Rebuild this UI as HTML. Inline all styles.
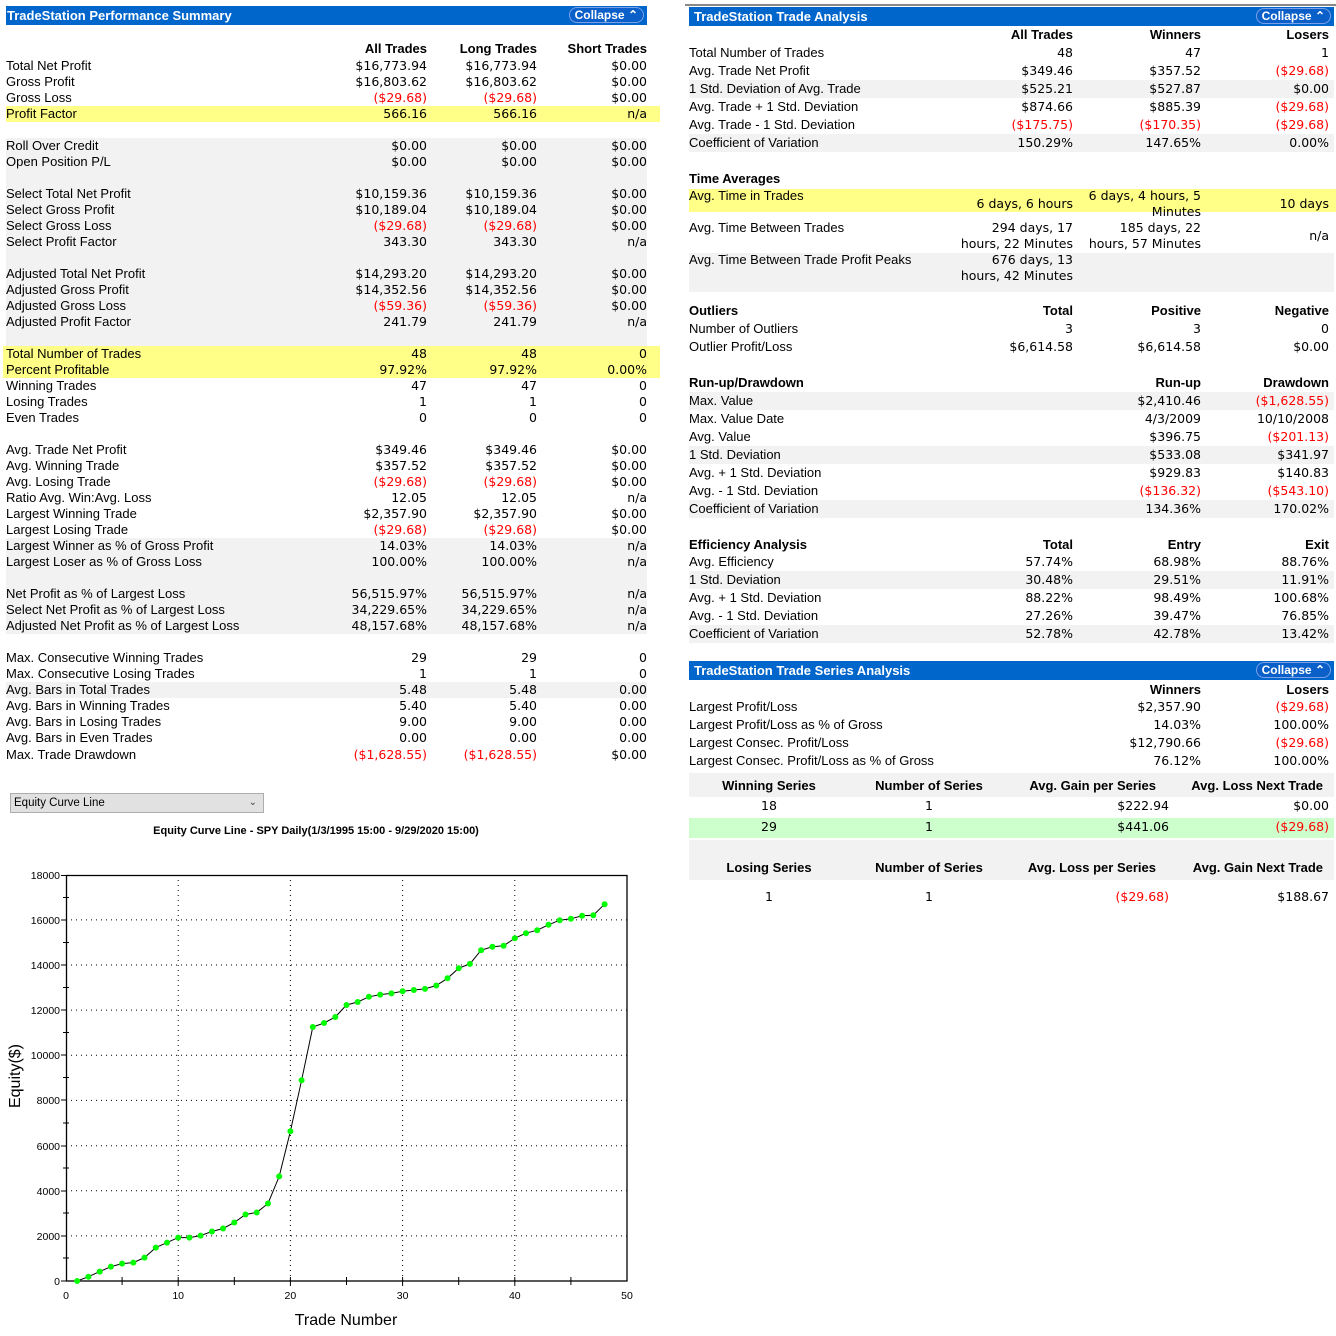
<!DOCTYPE html>
<html><head><meta charset="utf-8"><style>
*{margin:0;padding:0;box-sizing:border-box}
body{width:1336px;height:1336px;background:#fff;position:relative;overflow:hidden;font-family:"Liberation Sans",Arial,sans-serif;font-size:13px;color:#000}
.bar{position:absolute;background:#0066cc;color:#fff;font-weight:bold;font-size:13px;line-height:19px;padding-left:1px}
.btn{position:absolute;right:3px;top:1px;height:16px;line-height:14px;border:1px solid #7aa0e8;border-radius:8px;padding:0 5px;font-size:12px;background:#0a5fc8}
.bg{position:absolute}
.l{position:absolute;left:6px;width:641px;height:16px;line-height:16px;white-space:nowrap}
.l span{position:absolute;top:0}
.a{right:220px}.b{right:110px}.c{right:0}
.r{position:absolute;left:689px;width:640px;height:18px;line-height:18px;white-space:nowrap}
.r span{position:absolute;top:0}
.l span,.r span{font-family:"DejaVu Sans",sans-serif;font-size:12.5px}
.h span{font-family:"Liberation Sans",Arial,sans-serif;font-size:13px}
.x{right:256px}.y{right:128px}.z{right:0}
.red{color:#f00}
.h{font-weight:bold}
</style></head><body>

<div class="bg" style="left:6px;top:106px;width:654px;height:16px;background:#ffff88"></div>
<div class="bg" style="left:6px;top:138px;width:641px;height:208px;background:#f2f2f2"></div>
<div class="bg" style="left:3px;top:346px;width:657px;height:32px;background:#ffff88"></div>
<div class="bg" style="left:6px;top:538px;width:641px;height:96px;background:#f2f2f2"></div>
<div class="bg" style="left:6px;top:682px;width:641px;height:16px;background:#f2f2f2"></div>

<div class="bar" style="left:6px;top:6px;width:641px;height:19px">TradeStation Performance Summary<div class="btn">Collapse ⌃</div></div>

<div class="l h" style="top:41px"><span class="a">All Trades</span><span class="b">Long Trades</span><span class="c">Short Trades</span></div>
<div class="l" style="top:58px">Total Net Profit<span class="a">$16,773.94</span><span class="b">$16,773.94</span><span class="c">$0.00</span></div>
<div class="l" style="top:74px">Gross Profit<span class="a">$16,803.62</span><span class="b">$16,803.62</span><span class="c">$0.00</span></div>
<div class="l" style="top:90px">Gross Loss<span class="a red">($29.68)</span><span class="b red">($29.68)</span><span class="c">$0.00</span></div>
<div class="l" style="top:106px">Profit Factor<span class="a">566.16</span><span class="b">566.16</span><span class="c">n/a</span></div>
<div class="l" style="top:138px">Roll Over Credit<span class="a">$0.00</span><span class="b">$0.00</span><span class="c">$0.00</span></div>
<div class="l" style="top:154px">Open Position P/L<span class="a">$0.00</span><span class="b">$0.00</span><span class="c">$0.00</span></div>
<div class="l" style="top:186px">Select Total Net Profit<span class="a">$10,159.36</span><span class="b">$10,159.36</span><span class="c">$0.00</span></div>
<div class="l" style="top:202px">Select Gross Profit<span class="a">$10,189.04</span><span class="b">$10,189.04</span><span class="c">$0.00</span></div>
<div class="l" style="top:218px">Select Gross Loss<span class="a red">($29.68)</span><span class="b red">($29.68)</span><span class="c">$0.00</span></div>
<div class="l" style="top:234px">Select Profit Factor<span class="a">343.30</span><span class="b">343.30</span><span class="c">n/a</span></div>
<div class="l" style="top:266px">Adjusted Total Net Profit<span class="a">$14,293.20</span><span class="b">$14,293.20</span><span class="c">$0.00</span></div>
<div class="l" style="top:282px">Adjusted Gross Profit<span class="a">$14,352.56</span><span class="b">$14,352.56</span><span class="c">$0.00</span></div>
<div class="l" style="top:298px">Adjusted Gross Loss<span class="a red">($59.36)</span><span class="b red">($59.36)</span><span class="c">$0.00</span></div>
<div class="l" style="top:314px">Adjusted Profit Factor<span class="a">241.79</span><span class="b">241.79</span><span class="c">n/a</span></div>
<div class="l" style="top:346px">Total Number of Trades<span class="a">48</span><span class="b">48</span><span class="c">0</span></div>
<div class="l" style="top:362px">Percent Profitable<span class="a">97.92%</span><span class="b">97.92%</span><span class="c">0.00%</span></div>
<div class="l" style="top:378px">Winning Trades<span class="a">47</span><span class="b">47</span><span class="c">0</span></div>
<div class="l" style="top:394px">Losing Trades<span class="a">1</span><span class="b">1</span><span class="c">0</span></div>
<div class="l" style="top:410px">Even Trades<span class="a">0</span><span class="b">0</span><span class="c">0</span></div>
<div class="l" style="top:442px">Avg. Trade Net Profit<span class="a">$349.46</span><span class="b">$349.46</span><span class="c">$0.00</span></div>
<div class="l" style="top:458px">Avg. Winning Trade<span class="a">$357.52</span><span class="b">$357.52</span><span class="c">$0.00</span></div>
<div class="l" style="top:474px">Avg. Losing Trade<span class="a red">($29.68)</span><span class="b red">($29.68)</span><span class="c">$0.00</span></div>
<div class="l" style="top:490px">Ratio Avg. Win:Avg. Loss<span class="a">12.05</span><span class="b">12.05</span><span class="c">n/a</span></div>
<div class="l" style="top:506px">Largest Winning Trade<span class="a">$2,357.90</span><span class="b">$2,357.90</span><span class="c">$0.00</span></div>
<div class="l" style="top:522px">Largest Losing Trade<span class="a red">($29.68)</span><span class="b red">($29.68)</span><span class="c">$0.00</span></div>
<div class="l" style="top:538px">Largest Winner as % of Gross Profit<span class="a">14.03%</span><span class="b">14.03%</span><span class="c">n/a</span></div>
<div class="l" style="top:554px">Largest Loser as % of Gross Loss<span class="a">100.00%</span><span class="b">100.00%</span><span class="c">n/a</span></div>
<div class="l" style="top:586px">Net Profit as % of Largest Loss<span class="a">56,515.97%</span><span class="b">56,515.97%</span><span class="c">n/a</span></div>
<div class="l" style="top:602px">Select Net Profit as % of Largest Loss<span class="a">34,229.65%</span><span class="b">34,229.65%</span><span class="c">n/a</span></div>
<div class="l" style="top:618px">Adjusted Net Profit as % of Largest Loss<span class="a">48,157.68%</span><span class="b">48,157.68%</span><span class="c">n/a</span></div>
<div class="l" style="top:650px">Max. Consecutive Winning Trades<span class="a">29</span><span class="b">29</span><span class="c">0</span></div>
<div class="l" style="top:666px">Max. Consecutive Losing Trades<span class="a">1</span><span class="b">1</span><span class="c">0</span></div>
<div class="l" style="top:682px">Avg. Bars in Total Trades<span class="a">5.48</span><span class="b">5.48</span><span class="c">0.00</span></div>
<div class="l" style="top:698px">Avg. Bars in Winning Trades<span class="a">5.40</span><span class="b">5.40</span><span class="c">0.00</span></div>
<div class="l" style="top:714px">Avg. Bars in Losing Trades<span class="a">9.00</span><span class="b">9.00</span><span class="c">0.00</span></div>
<div class="l" style="top:730px">Avg. Bars in Even Trades<span class="a">0.00</span><span class="b">0.00</span><span class="c">0.00</span></div>
<div class="l" style="top:747px">Max. Trade Drawdown<span class="a red">($1,628.55)</span><span class="b red">($1,628.55)</span><span class="c">$0.00</span></div>

<div class="bg" style="left:685px;top:4px;width:651px;height:2px;background:#888"></div>
<div class="bar" style="left:689px;top:7px;width:645px;height:19px;padding-left:5px">TradeStation Trade Analysis<div class="btn">Collapse ⌃</div></div>

<div class="bg" style="left:689px;top:80px;width:645px;height:18px;background:#f2f2f2"></div>
<div class="bg" style="left:689px;top:134px;width:645px;height:18px;background:#f2f2f2"></div>
<div class="bg" style="left:689px;top:189px;width:647px;height:23px;background:#ffff88"></div>
<div class="bg" style="left:689px;top:253px;width:645px;height:39px;background:#f2f2f2"></div>
<div class="bg" style="left:689px;top:392px;width:645px;height:18px;background:#f2f2f2"></div>
<div class="bg" style="left:689px;top:446px;width:645px;height:18px;background:#f2f2f2"></div>
<div class="bg" style="left:689px;top:500px;width:645px;height:18px;background:#f2f2f2"></div>
<div class="bg" style="left:689px;top:571px;width:645px;height:18px;background:#f2f2f2"></div>
<div class="bg" style="left:689px;top:625px;width:645px;height:18px;background:#f2f2f2"></div>

<div class="r h" style="top:26px"><span class="x">All Trades</span><span class="y">Winners</span><span class="z">Losers</span></div>
<div class="r" style="top:44px">Total Number of Trades<span class="x">48</span><span class="y">47</span><span class="z">1</span></div>
<div class="r" style="top:62px">Avg. Trade Net Profit<span class="x">$349.46</span><span class="y">$357.52</span><span class="z red">($29.68)</span></div>
<div class="r" style="top:80px">1 Std. Deviation of Avg. Trade<span class="x">$525.21</span><span class="y">$527.87</span><span class="z">$0.00</span></div>
<div class="r" style="top:98px">Avg. Trade + 1 Std. Deviation<span class="x">$874.66</span><span class="y">$885.39</span><span class="z red">($29.68)</span></div>
<div class="r" style="top:116px">Avg. Trade - 1 Std. Deviation<span class="x red">($175.75)</span><span class="y red">($170.35)</span><span class="z red">($29.68)</span></div>
<div class="r" style="top:134px">Coefficient of Variation<span class="x">150.29%</span><span class="y">147.65%</span><span class="z">0.00%</span></div>

<div class="r h" style="top:170px">Time Averages</div>
<div class="r" style="top:187px">Avg. Time in Trades<span class="x" style="top:8px">6 days, 6 hours</span><span class="y">6 days, 4 hours, 5</span><span class="y" style="top:16px">Minutes</span><span class="z" style="top:8px">10 days</span></div>
<div class="r" style="top:219px">Avg. Time Between Trades<span class="x">294 days, 17</span><span class="x" style="top:16px">hours, 22 Minutes</span><span class="y">185 days, 22</span><span class="y" style="top:16px">hours, 57 Minutes</span><span class="z" style="top:8px">n/a</span></div>
<div class="r" style="top:251px">Avg. Time Between Trade Profit Peaks<span class="x">676 days, 13</span><span class="x" style="top:16px">hours, 42 Minutes</span></div>

<div class="r h" style="top:302px">Outliers<span class="x">Total</span><span class="y">Positive</span><span class="z">Negative</span></div>
<div class="r" style="top:320px">Number of Outliers<span class="x">3</span><span class="y">3</span><span class="z">0</span></div>
<div class="r" style="top:338px">Outlier Profit/Loss<span class="x">$6,614.58</span><span class="y">$6,614.58</span><span class="z">$0.00</span></div>

<div class="r h" style="top:374px">Run-up/Drawdown<span class="y">Run-up</span><span class="z">Drawdown</span></div>
<div class="r" style="top:392px">Max. Value<span class="y">$2,410.46</span><span class="z red">($1,628.55)</span></div>
<div class="r" style="top:410px">Max. Value Date<span class="y">4/3/2009</span><span class="z">10/10/2008</span></div>
<div class="r" style="top:428px">Avg. Value<span class="y">$396.75</span><span class="z red">($201.13)</span></div>
<div class="r" style="top:446px">1 Std. Deviation<span class="y">$533.08</span><span class="z">$341.97</span></div>
<div class="r" style="top:464px">Avg. + 1 Std. Deviation<span class="y">$929.83</span><span class="z">$140.83</span></div>
<div class="r" style="top:482px">Avg. - 1 Std. Deviation<span class="y red">($136.32)</span><span class="z red">($543.10)</span></div>
<div class="r" style="top:500px">Coefficient of Variation<span class="y">134.36%</span><span class="z">170.02%</span></div>

<div class="r h" style="top:536px">Efficiency Analysis<span class="x">Total</span><span class="y">Entry</span><span class="z">Exit</span></div>
<div class="r" style="top:553px">Avg. Efficiency<span class="x">57.74%</span><span class="y">68.98%</span><span class="z">88.76%</span></div>
<div class="r" style="top:571px">1 Std. Deviation<span class="x">30.48%</span><span class="y">29.51%</span><span class="z">11.91%</span></div>
<div class="r" style="top:589px">Avg. + 1 Std. Deviation<span class="x">88.22%</span><span class="y">98.49%</span><span class="z">100.68%</span></div>
<div class="r" style="top:607px">Avg. - 1 Std. Deviation<span class="x">27.26%</span><span class="y">39.47%</span><span class="z">76.85%</span></div>
<div class="r" style="top:625px">Coefficient of Variation<span class="x">52.78%</span><span class="y">42.78%</span><span class="z">13.42%</span></div>

<div class="bar" style="left:689px;top:661px;width:645px;height:19px;padding-left:5px">TradeStation Trade Series Analysis<div class="btn">Collapse ⌃</div></div>
<div class="r h" style="top:681px"><span class="y">Winners</span><span class="z">Losers</span></div>
<div class="r" style="top:698px">Largest Profit/Loss<span class="y">$2,357.90</span><span class="z red">($29.68)</span></div>
<div class="r" style="top:716px">Largest Profit/Loss as % of Gross<span class="y">14.03%</span><span class="z">100.00%</span></div>
<div class="r" style="top:734px">Largest Consec. Profit/Loss<span class="y">$12,790.66</span><span class="z red">($29.68)</span></div>
<div class="r" style="top:752px">Largest Consec. Profit/Loss as % of Gross<span class="y">76.12%</span><span class="z">100.00%</span></div>

<div class="bg" style="left:689px;top:773px;width:645px;height:24px;background:#f2f2f2"></div>
<div class="bg" style="left:689px;top:818px;width:645px;height:20px;background:#ccffcc"></div>
<div class="bg" style="left:689px;top:840px;width:645px;height:40px;background:#f2f2f2"></div>
<div class="r h" style="top:777px"><span style="left:0;width:160px;text-align:center">Winning Series</span><span style="left:160px;width:160px;text-align:center">Number of Series</span><span style="right:173px">Avg. Gain per Series</span><span style="right:6px">Avg. Loss Next Trade</span></div>
<div class="r" style="top:797px"><span style="left:0;width:160px;text-align:center">18</span><span style="left:160px;width:160px;text-align:center">1</span><span style="right:160px">$222.94</span><span class="z">$0.00</span></div>
<div class="r" style="top:818px"><span style="left:0;width:160px;text-align:center">29</span><span style="left:160px;width:160px;text-align:center">1</span><span style="right:160px">$441.06</span><span class="z red">($29.68)</span></div>
<div class="r h" style="top:859px"><span style="left:0;width:160px;text-align:center">Losing Series</span><span style="left:160px;width:160px;text-align:center">Number of Series</span><span style="right:173px">Avg. Loss per Series</span><span style="right:6px">Avg. Gain Next Trade</span></div>
<div class="r" style="top:888px"><span style="left:0;width:160px;text-align:center">1</span><span style="left:160px;width:160px;text-align:center">1</span><span class="red" style="right:160px">($29.68)</span><span class="z">$188.67</span></div>

<div class="bg" style="left:10px;top:793px;width:254px;height:20px;background:#e1e1e1;border:1px solid #adadad;font-size:11.5px;line-height:18px;padding-left:3px">Equity Curve Line<span style="position:absolute;right:6px;top:0;font-size:10px;color:#444">&#8964;</span></div>
<svg style="position:absolute;left:0;top:0" width="1336" height="1336" viewBox="0 0 1336 1336">
<g font-family="Liberation Sans, Arial, sans-serif">
<text x="316" y="834" font-size="11" font-weight="bold" text-anchor="middle">Equity Curve Line - SPY Daily(1/3/1995 15:00 - 9/29/2020 15:00)</text>
<g stroke="#000" stroke-width="1" stroke-dasharray="1,4">
<line x1="178.2" y1="875" x2="178.2" y2="1281"/><line x1="290.4" y1="875" x2="290.4" y2="1281"/><line x1="402.6" y1="875" x2="402.6" y2="1281"/><line x1="514.8" y1="875" x2="514.8" y2="1281"/>
<line x1="66" y1="919.9" x2="627" y2="919.9"/><line x1="66" y1="965" x2="627" y2="965"/><line x1="66" y1="1010.1" x2="627" y2="1010.1"/><line x1="66" y1="1055.2" x2="627" y2="1055.2"/><line x1="66" y1="1100.4" x2="627" y2="1100.4"/><line x1="66" y1="1145.7" x2="627" y2="1145.7"/><line x1="66" y1="1190.8" x2="627" y2="1190.8"/><line x1="66" y1="1235.9" x2="627" y2="1235.9"/>
</g>
<rect x="66.5" y="875.5" width="560.5" height="405.5" fill="none" stroke="#000" stroke-width="1.3"/>
<g stroke="#000" stroke-width="1">
<line x1="61" y1="875.5" x2="66" y2="875.5"/><line x1="61" y1="920" x2="66" y2="920"/><line x1="61" y1="965" x2="66" y2="965"/><line x1="61" y1="1010" x2="66" y2="1010"/><line x1="61" y1="1055" x2="66" y2="1055"/><line x1="61" y1="1100" x2="66" y2="1100"/><line x1="61" y1="1146" x2="66" y2="1146"/><line x1="61" y1="1191" x2="66" y2="1191"/><line x1="61" y1="1236" x2="66" y2="1236"/><line x1="61" y1="1281" x2="66" y2="1281"/>
<line x1="63" y1="897.5" x2="69" y2="897.5"/><line x1="63" y1="942.5" x2="69" y2="942.5"/><line x1="63" y1="987.5" x2="69" y2="987.5"/><line x1="63" y1="1032.5" x2="69" y2="1032.5"/><line x1="63" y1="1077.5" x2="69" y2="1077.5"/><line x1="63" y1="1123" x2="69" y2="1123"/><line x1="63" y1="1168" x2="69" y2="1168"/><line x1="63" y1="1213" x2="69" y2="1213"/><line x1="63" y1="1258" x2="69" y2="1258"/>
<line x1="122.1" y1="1277" x2="122.1" y2="1285"/><line x1="178.2" y1="1277" x2="178.2" y2="1286"/><line x1="234.3" y1="1277" x2="234.3" y2="1285"/><line x1="290.4" y1="1277" x2="290.4" y2="1286"/><line x1="346.5" y1="1277" x2="346.5" y2="1285"/><line x1="402.6" y1="1277" x2="402.6" y2="1286"/><line x1="458.7" y1="1277" x2="458.7" y2="1285"/><line x1="514.8" y1="1277" x2="514.8" y2="1286"/><line x1="570.9" y1="1277" x2="570.9" y2="1285"/>
</g>
<g font-size="10.5" text-anchor="end">
<text x="60" y="879">18000</text><text x="60" y="924">16000</text><text x="60" y="969">14000</text><text x="60" y="1014">12000</text><text x="60" y="1059">10000</text><text x="60" y="1104">8000</text><text x="60" y="1150">6000</text><text x="60" y="1195">4000</text><text x="60" y="1240">2000</text><text x="60" y="1285">0</text>
</g>
<g font-size="10.5" text-anchor="middle">
<text x="66" y="1299">0</text><text x="178.2" y="1299">10</text><text x="290.4" y="1299">20</text><text x="402.6" y="1299">30</text><text x="514.8" y="1299">40</text><text x="627" y="1299">50</text>
</g>
<text x="346" y="1325" font-size="16" text-anchor="middle">Trade Number</text>
<text transform="translate(20,1076) rotate(-90)" font-size="16" text-anchor="middle">Equity($)</text>
<polyline fill="none" stroke="#000" stroke-width="1" points="77.2,1281 88.4,1276.7 99.7,1271.6 110.9,1266.6 122.1,1263.6 133.3,1262.6 144.5,1257.6 155.8,1247.6 167,1242.6 178.2,1237.6 189.4,1237.6 200.6,1235.6 211.9,1231.5 223.1,1228.5 234.3,1222.5 245.5,1214.5 256.7,1212.5 268,1203.5 279.2,1176.4 290.4,1131.3 301.6,1080.2 312.8,1027 324.1,1023 335.3,1017 346.5,1005 357.7,1002 368.9,996.8 380.2,994.6 391.4,993.4 402.6,991.2 413.8,990 425,988.9 436.3,985.5 447.5,978.3 458.7,968.2 469.9,963.9 481.1,950.2 492.4,946.8 503.6,945.8 514.8,938.2 526,933.2 537.2,930.2 548.5,924.8 559.7,920.2 570.9,918.8 582.1,915.8 593.3,915.2 604.6,904.2"/>
<g fill="#00ff00">
<circle cx="77.2" cy="1281" r="3"/><circle cx="88.4" cy="1276.7" r="3"/><circle cx="99.7" cy="1271.6" r="3"/><circle cx="110.9" cy="1266.6" r="3"/><circle cx="122.1" cy="1263.6" r="3"/><circle cx="133.3" cy="1262.6" r="3"/><circle cx="144.5" cy="1257.6" r="3"/><circle cx="155.8" cy="1247.6" r="3"/><circle cx="167" cy="1242.6" r="3"/><circle cx="178.2" cy="1237.6" r="3"/><circle cx="189.4" cy="1237.6" r="3"/><circle cx="200.6" cy="1235.6" r="3"/><circle cx="211.9" cy="1231.5" r="3"/><circle cx="223.1" cy="1228.5" r="3"/><circle cx="234.3" cy="1222.5" r="3"/><circle cx="245.5" cy="1214.5" r="3"/><circle cx="256.7" cy="1212.5" r="3"/><circle cx="268" cy="1203.5" r="3"/><circle cx="279.2" cy="1176.4" r="3"/><circle cx="290.4" cy="1131.3" r="3"/><circle cx="301.6" cy="1080.2" r="3"/><circle cx="312.8" cy="1027" r="3"/><circle cx="324.1" cy="1023" r="3"/><circle cx="335.3" cy="1017" r="3"/><circle cx="346.5" cy="1005" r="3"/><circle cx="357.7" cy="1002" r="3"/><circle cx="368.9" cy="996.8" r="3"/><circle cx="380.2" cy="994.6" r="3"/><circle cx="391.4" cy="993.4" r="3"/><circle cx="402.6" cy="991.2" r="3"/><circle cx="413.8" cy="990" r="3"/><circle cx="425" cy="988.9" r="3"/><circle cx="436.3" cy="985.5" r="3"/><circle cx="447.5" cy="978.3" r="3"/><circle cx="458.7" cy="968.2" r="3"/><circle cx="469.9" cy="963.9" r="3"/><circle cx="481.1" cy="950.2" r="3"/><circle cx="492.4" cy="946.8" r="3"/><circle cx="503.6" cy="945.8" r="3"/><circle cx="514.8" cy="938.2" r="3"/><circle cx="526" cy="933.2" r="3"/><circle cx="537.2" cy="930.2" r="3"/><circle cx="548.5" cy="924.8" r="3"/><circle cx="559.7" cy="920.2" r="3"/><circle cx="570.9" cy="918.8" r="3"/><circle cx="582.1" cy="915.8" r="3"/><circle cx="593.3" cy="915.2" r="3"/><circle cx="604.6" cy="904.2" r="3"/>
</g>
</g>
</svg>
</body></html>
